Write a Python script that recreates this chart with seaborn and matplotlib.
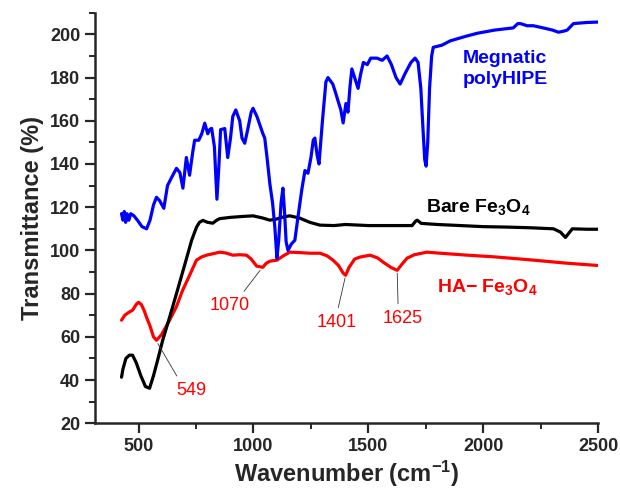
import matplotlib
matplotlib.use("Agg")
import matplotlib.pyplot as plt
from matplotlib.ticker import MultipleLocator
import seaborn as sns
import pandas as pd

# ---- data ----
blue_w = [426, 432, 438, 444, 450, 458, 466, 480, 495, 515, 535, 550, 565, 578, 592, 610, 626, 645, 665, 680,
          693, 708, 722, 735, 744, 762, 775, 788, 801, 810, 818, 830, 841, 850, 857, 875, 888, 900, 910, 923,
          940, 950, 962, 975, 990, 998, 1015, 1041, 1049, 1060, 1071, 1083, 1093, 1102, 1110, 1120, 1128, 1135,
          1142, 1150, 1165, 1180, 1193, 1210, 1224, 1237, 1250, 1260, 1267, 1277, 1285, 1300, 1315, 1324, 1345,
          1360, 1367, 1380, 1390, 1402, 1411, 1420, 1428, 1440, 1455, 1465, 1478, 1495, 1510, 1537, 1560, 1581,
          1600, 1620, 1638, 1660, 1685, 1703, 1716, 1728, 1738, 1745, 1751, 1758, 1766, 1775, 1782, 1820, 1856,
          1920, 1973, 2050, 2130, 2150, 2161, 2190, 2217, 2260, 2300, 2327, 2350, 2365, 2392, 2450, 2500]
blue_t = [117, 114, 118, 113, 117, 114, 117, 116, 114, 111, 110, 114, 121, 124.6, 123, 119.5, 130, 134, 138, 136,
          128.8, 143, 134.8, 145, 151, 151, 154, 158.9, 154, 156, 156.5, 148, 123.7, 140, 155.9, 156.4, 143, 152, 162, 165,
          160, 152, 149.6, 156, 164, 165.8, 162, 154, 152, 142, 131, 122, 110.7, 96.4, 105, 122, 128.8, 118,
          104, 100, 103, 104.7, 115, 128, 137, 135.7, 143, 151, 152, 144, 140, 160, 178, 180, 177,
          172, 169.5, 165, 159, 168, 164, 176, 184, 180, 175, 181, 187, 186, 189, 189, 188, 190,
          186, 180, 177, 182, 187, 189, 187, 175, 155, 142, 139, 150, 175, 190, 194, 195, 197,
          199, 200.5, 202, 203, 205, 205, 204, 204, 203, 202, 201, 201.5, 202, 205, 205.5, 205.7]

black_w = [426, 432, 445, 460, 474, 490, 510, 530, 548, 565, 585, 605, 635, 665, 700, 731, 752, 765, 780, 800,
           823, 840, 853, 900, 950, 998, 1040, 1071, 1100, 1130, 1158, 1200, 1245, 1289, 1350, 1400, 1500, 1600,
           1690, 1705, 1712, 1730, 1800, 1900, 2000, 2100, 2200, 2305, 2335, 2357, 2372, 2387, 2450, 2500]
black_t = [41.3, 45, 50, 51.5, 51.5, 48, 42, 37, 36.2, 42, 50, 58.4, 69, 80, 93, 104.7, 110.7, 113, 113.9, 113,
           112.6, 114, 114.7, 115.3, 115.7, 116, 115, 114, 114.5, 115.5, 116, 115, 113, 111.7, 111.5, 112, 111.5, 111.5,
           111.5, 113.5, 114, 112.5, 112, 111.5, 111, 110.8, 110.5, 110, 108.5, 106, 108, 110, 109.8, 109.8]

red_w = [426, 440, 460, 474, 490, 500, 512, 525, 535, 550, 565, 578, 600, 635, 665, 692, 720, 752, 775, 796,
         830, 853, 880, 910, 940, 970, 990, 1014, 1041, 1055, 1071, 1102, 1130, 1158, 1200, 1245, 1289, 1320,
         1346, 1370, 1390, 1401, 1415, 1440, 1463, 1507, 1540, 1565, 1600, 1625, 1645, 1668, 1700, 1755, 1800,
         1930, 2050, 2218, 2350, 2500]
red_t = [67.7, 70, 71.5, 72.3, 75, 76, 75, 72, 69, 65, 60, 58.4, 61, 67.7, 74, 81.6, 88, 95.5, 97, 97.8,
         98.6, 99.2, 98.8, 97.8, 98, 97.8, 96, 92.7, 92.2, 94, 95, 95.5, 97.5, 99.2, 99, 98.7, 98.7, 97.5,
         95.5, 93, 89.5, 88.5, 92, 96, 96.9, 97.8, 96.5, 94.5, 92, 90.8, 93.5, 96.4, 98, 99.2, 98.8,
         97.8, 97, 95.5, 94.2, 93]

peak_labels = ["549", "1070", "1401", "1625"]
x_ticks = [500, 1000, 1500, 2000, 2500]
y_ticks = [20, 40, 60, 80, 100, 120, 140, 160, 180, 200]

# ---- style ----
sns.set_style("ticks")
plt.rcParams["font.family"] = ["Liberation Sans", "DejaVu Sans"]
plt.rcParams["mathtext.fontset"] = "custom"
plt.rcParams["mathtext.rm"] = "Liberation Sans:bold"
plt.rcParams["mathtext.it"] = "Liberation Sans:bold"
plt.rcParams["mathtext.bf"] = "Liberation Sans:bold"
plt.rcParams["mathtext.default"] = "rm"

fig = plt.figure(figsize=(6.2, 4.91), dpi=100)
ax = fig.add_axes([0.153, 0.138, 0.812, 0.836])

df_b = pd.DataFrame({"w": blue_w, "t": blue_t})
df_k = pd.DataFrame({"w": black_w, "t": black_t})
df_r = pd.DataFrame({"w": red_w, "t": red_t})
sns.lineplot(data=df_r, x="w", y="t", color="#ff0000", lw=2.3, ax=ax, sort=False)
sns.lineplot(data=df_k, x="w", y="t", color="black", lw=2.3, ax=ax, sort=False)
sns.lineplot(data=df_b, x="w", y="t", color="#0000ff", lw=2.3, ax=ax, sort=False)

ax.set_xlim(310, 2500)
ax.set_ylim(20, 210)
ax.set_xticks(x_ticks)
ax.set_yticks(y_ticks)
ax.xaxis.set_minor_locator(MultipleLocator(250))
ax.yaxis.set_minor_locator(MultipleLocator(10))
ax.tick_params(axis="both", which="major", length=7, width=1.6, labelsize=13, direction="out")
ax.tick_params(axis="both", which="minor", length=4, width=1.4, direction="out")
for lab in ax.get_xticklabels() + ax.get_yticklabels():
    lab.set_fontweight("bold")
for s in ["left", "bottom"]:
    ax.spines[s].set_linewidth(1.8)
sns.despine(ax=ax)

ax.set_xlabel("Wavenumber (cm$^{-1}$)", fontsize=17, fontweight="bold", labelpad=3)
ax.set_ylabel("Transmittance (%)", fontsize=17, fontweight="bold", labelpad=4)

# ---- annotations ----
ann = dict(color="#ff0000", fontsize=13, ha="center", va="center")
line_kw = dict(arrowstyle="-", color="#333333", lw=0.6)
ax.annotate(peak_labels[0], xy=(578, 58), xytext=(731, 35.3), arrowprops=dict(line_kw, relpos=(0.15, 0.9)), **ann)
ax.annotate(peak_labels[1], xy=(1036, 91.8), xytext=(897, 74.6), arrowprops=dict(line_kw, relpos=(0.75, 1.0)), **ann)
ax.annotate(peak_labels[2], xy=(1401, 88.5), xytext=(1363, 66.8), arrowprops=dict(line_kw, relpos=(0.5, 1.0)), **ann)
ax.annotate(peak_labels[3], xy=(1625, 90.8), xytext=(1647, 68.6), arrowprops=dict(line_kw, relpos=(0.4, 1.0)), **ann)

ax.text(1799, 83, "HA\u2212 Fe$_3$O$_4$", color="#ff0000", fontsize=14, fontweight="bold", ha="left", va="center")
ax.text(1751, 120, "Bare Fe$_3$O$_4$", color="black", fontsize=14, fontweight="bold", ha="left", va="center")
ax.text(1912, 184, "Megnatic\npolyHIPE", color="#0000ff", fontsize=14, fontweight="bold", ha="left", va="center",
        linespacing=1.25)

fig.savefig("out.png", dpi=100)
